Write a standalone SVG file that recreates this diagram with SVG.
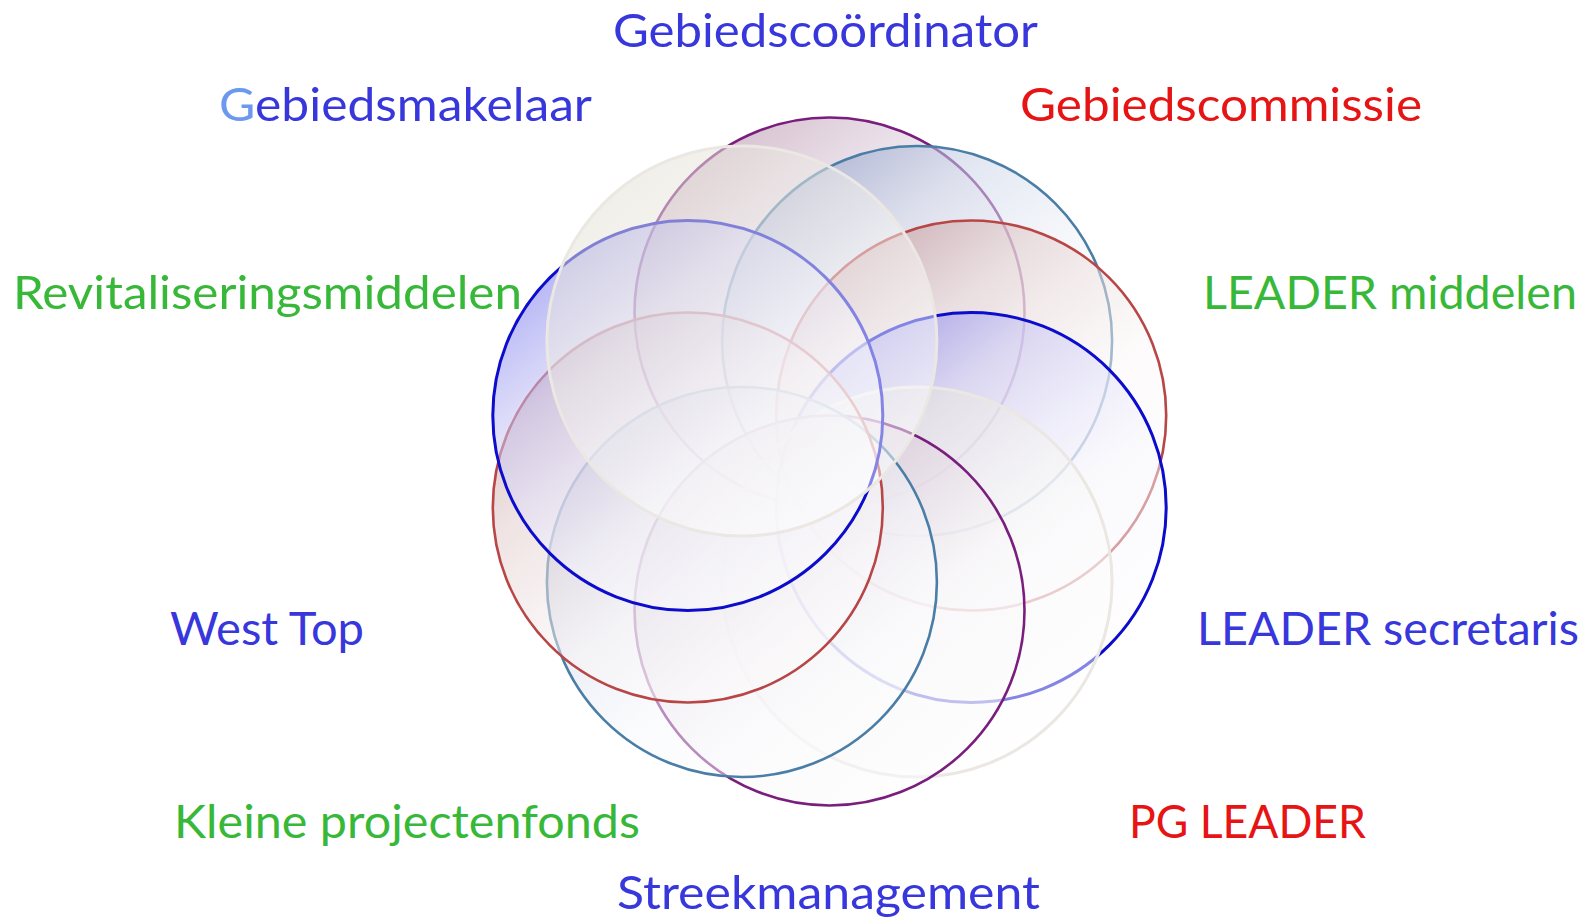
<svg xmlns="http://www.w3.org/2000/svg" width="1584" height="920" viewBox="0 0 1584 920">
<defs>
<linearGradient id="gPurple" x1="0.1" y1="0" x2="0.9" y2="1">
<stop offset="0" stop-color="#b0849f" stop-opacity="0.62"/>
<stop offset="0.3" stop-color="#d8c6d6" stop-opacity="0.55"/>
<stop offset="0.6" stop-color="#f8f6f8" stop-opacity="0.5"/>
<stop offset="1" stop-color="#ffffff" stop-opacity="0.5"/>
</linearGradient>
<linearGradient id="gSteel" x1="0.1" y1="0" x2="0.9" y2="1">
<stop offset="0" stop-color="#7c8fbf" stop-opacity="0.62"/>
<stop offset="0.3" stop-color="#ccd5e8" stop-opacity="0.55"/>
<stop offset="0.6" stop-color="#f7f8fb" stop-opacity="0.5"/>
<stop offset="1" stop-color="#ffffff" stop-opacity="0.5"/>
</linearGradient>
<linearGradient id="gRed" x1="0.1" y1="0" x2="0.9" y2="1">
<stop offset="0" stop-color="#b98080" stop-opacity="0.62"/>
<stop offset="0.3" stop-color="#e2cccc" stop-opacity="0.55"/>
<stop offset="0.6" stop-color="#faf6f6" stop-opacity="0.5"/>
<stop offset="1" stop-color="#ffffff" stop-opacity="0.5"/>
</linearGradient>
<linearGradient id="gBlue" x1="0.1" y1="0" x2="0.9" y2="1">
<stop offset="0" stop-color="#6464ec" stop-opacity="0.62"/>
<stop offset="0.3" stop-color="#c8c6f4" stop-opacity="0.55"/>
<stop offset="0.6" stop-color="#f6f6fd" stop-opacity="0.5"/>
<stop offset="1" stop-color="#ffffff" stop-opacity="0.5"/>
</linearGradient>
<linearGradient id="gWhite" x1="0.1" y1="0" x2="0.9" y2="1">
<stop offset="0" stop-color="#e0dccf" stop-opacity="0.55"/>
<stop offset="0.35" stop-color="#efede8" stop-opacity="0.52"/>
<stop offset="0.6" stop-color="#fafafa" stop-opacity="0.5"/>
<stop offset="1" stop-color="#ffffff" stop-opacity="0.5"/>
</linearGradient>
<style>
.c{stroke-width:2.6}
.purple{fill:url(#gPurple);stroke:#7a1e7e}
.steel{fill:url(#gSteel);stroke:#4a7ea6}
.red{fill:url(#gRed);stroke:#b84646}
.blue{fill:url(#gBlue);stroke:#0c0ccc;stroke-width:3}
.white{fill:url(#gWhite);stroke:#ebe7e3;stroke-width:3}
.t{font-family:Lato,"Liberation Sans",sans-serif;font-size:47px}
.tb{fill:#3737dc}
.tr{fill:#e61414}
.tg{fill:#38b838}
</style>
</defs>
<rect width="1584" height="920" fill="#ffffff"/>
<g id="circles">
<g id="circle-1"><circle class="c purple" cx="829.5" cy="312.5" r="195"/></g>
<g id="circle-2"><circle class="c steel" cx="917.1" cy="341" r="195"/></g>
<g id="circle-3"><circle class="c red" cx="971.2" cy="415.5" r="195"/></g>
<g id="circle-4"><circle class="c blue" cx="971.2" cy="507.5" r="195"/></g>
<g id="circle-5"><circle class="c white" cx="917.1" cy="582" r="195"/></g>
<g id="circle-6"><circle class="c purple" cx="829.5" cy="610.5" r="195"/></g>
<g id="circle-7"><circle class="c steel" cx="741.9" cy="582" r="195"/></g>
<g id="circle-8"><circle class="c red" cx="687.8" cy="507.5" r="195"/></g>
<g id="circle-9"><circle class="c blue" cx="687.8" cy="415.5" r="195"/></g>
<g id="circle-10"><circle class="c white" cx="741.9" cy="341" r="195"/></g>
</g>
<g id="labels">
<g id="label-gebiedscoordinator"><text class="t tb" x="613" y="47" textLength="425" lengthAdjust="spacingAndGlyphs">Gebiedscoördinator</text></g>
<g id="label-gebiedsmakelaar"><text class="t tb" x="219" y="121" textLength="373" lengthAdjust="spacingAndGlyphs"><tspan fill="#6c98ee">G</tspan>ebiedsmakelaar</text></g>
<g id="label-gebiedscommissie"><text class="t tr" x="1020" y="121" textLength="402" lengthAdjust="spacingAndGlyphs">Gebiedscommissie</text></g>
<g id="label-revitaliseringsmiddelen"><text class="t tg" x="13" y="309" textLength="509" lengthAdjust="spacingAndGlyphs">Revitaliseringsmiddelen</text></g>
<g id="label-leader-middelen"><text class="t tg" x="1203" y="309" textLength="374" lengthAdjust="spacingAndGlyphs">LEADER middelen</text></g>
<g id="label-west-top"><text class="t tb" x="170" y="645" textLength="194" lengthAdjust="spacingAndGlyphs">West Top</text></g>
<g id="label-leader-secretaris"><text class="t tb" x="1197" y="645" textLength="382" lengthAdjust="spacingAndGlyphs">LEADER secretaris</text></g>
<g id="label-kleine-projectenfonds"><text class="t tg" x="174" y="838" textLength="466" lengthAdjust="spacingAndGlyphs">Kleine projectenfonds</text></g>
<g id="label-pg-leader"><text class="t tr" x="1129" y="838" textLength="237" lengthAdjust="spacingAndGlyphs">PG LEADER</text></g>
<g id="label-streekmanagement"><text class="t tb" x="617" y="909" textLength="423" lengthAdjust="spacingAndGlyphs">Streekmanagement</text></g>
</g>
</svg>
